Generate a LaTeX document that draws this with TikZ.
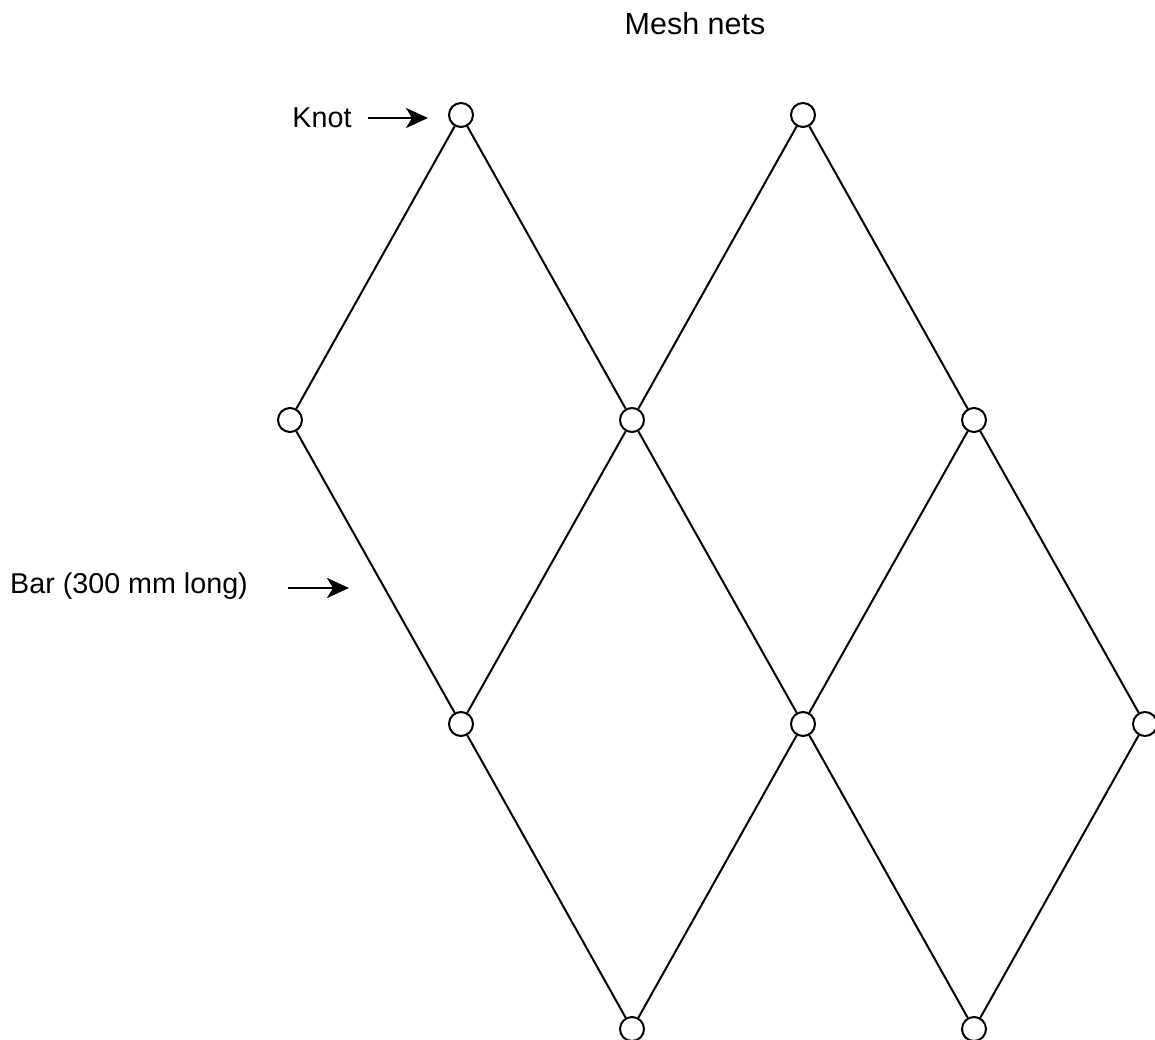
\documentclass[tikz,border=0pt]{standalone}
\usepackage{fontspec}
\setmainfont{Liberation Sans}
\usetikzlibrary{arrows.meta}
\begin{document}
\begin{tikzpicture}[x=1pt,y=-1pt,
  knot/.style={circle,draw,fill=white,line width=2pt,minimum size=24pt,inner sep=0pt},
  bar/.style={line width=2pt},
  pointer/.style={line width=2.2pt,-{Stealth[length=22pt,width=20pt,inset=6pt]}},
  lbl/.style={font=\fontsize{28.7}{32}\selectfont,inner sep=0pt},
  ttl/.style={font=\fontsize{30.5}{34}\selectfont,inner sep=0pt}]
\useasboundingbox (0,0) rectangle (1155,1040);
\node[knot] (a1) at (461,115) {};
\node[knot] (a2) at (803,115) {};
\node[knot] (b1) at (290,420) {};
\node[knot] (b2) at (632,420) {};
\node[knot] (b3) at (974,420) {};
\node[knot] (c1) at (461,724) {};
\node[knot] (c2) at (803,724) {};
\node[knot] (c3) at (1145,724) {};
\node[knot] (d1) at (632,1029) {};
\node[knot] (d2) at (974,1029) {};
\draw[bar] (a1) -- (b1);
\draw[bar] (a1) -- (b2);
\draw[bar] (a2) -- (b2);
\draw[bar] (a2) -- (b3);
\draw[bar] (b1) -- (c1);
\draw[bar] (b2) -- (c1);
\draw[bar] (b2) -- (c2);
\draw[bar] (b3) -- (c2);
\draw[bar] (b3) -- (c3);
\draw[bar] (c1) -- (d1);
\draw[bar] (c2) -- (d1);
\draw[bar] (c2) -- (d2);
\draw[bar] (c3) -- (d2);
\node[ttl] (title) at (695,24) {Mesh nets};
\node[lbl] (knotlbl) at (322,118) {Knot};
\node[lbl] (barlbl) at (129,586) {Bar (300 mm long)};
\coordinate (k0) at (368,118);
\coordinate (k1) at (428,118);
\coordinate (r0) at (288,588);
\coordinate (r1) at (349,588);
\draw[pointer] (k0) -- (k1);
\draw[pointer] (r0) -- (r1);
\end{tikzpicture}
\end{document}
